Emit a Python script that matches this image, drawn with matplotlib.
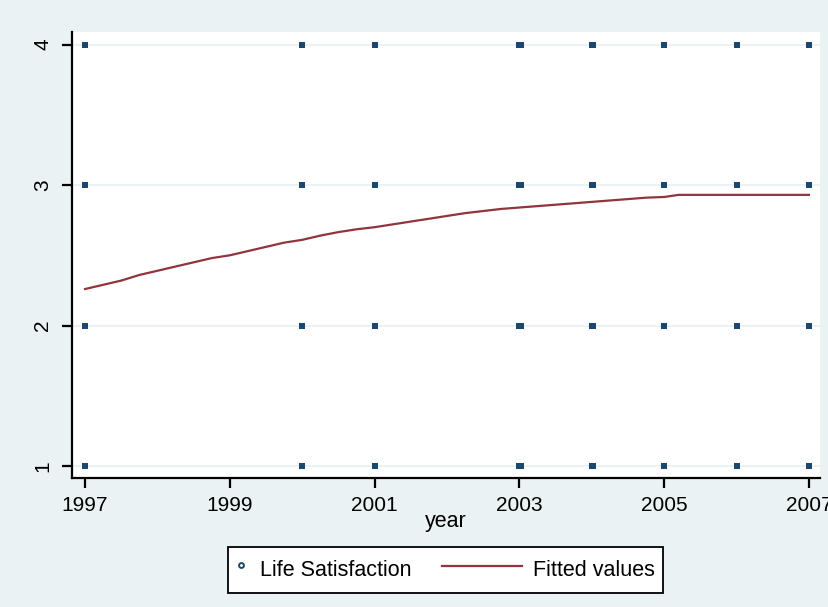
import numpy as np
import matplotlib.pyplot as plt
from matplotlib.lines import Line2D
from matplotlib.patches import Rectangle

# observed survey years and answer levels (every combination appears)
years = [1997, 2000, 2001, 2003, 2004, 2005, 2006, 2007]
levels = [1, 2, 3, 4]
# 2003 and 2004 have interview dates spread a little within the year
extra_years = [2003.02, 2004.02]

# fitted values
fit_x = [1997.0, 1997.25, 1997.5, 1997.75, 1998.0, 1998.25, 1998.5, 1998.75,
         1999.0, 1999.25, 1999.5, 1999.75, 2000.0, 2000.25, 2000.5, 2000.75,
         2001.0, 2001.25, 2001.5, 2001.75, 2002.0, 2002.25, 2002.5, 2002.75,
         2003.0, 2003.25, 2003.5, 2003.75, 2004.0, 2004.25, 2004.5, 2004.75,
         2005.0, 2005.2, 2006.0, 2007.0]
fit_y = [2.26, 2.29, 2.32, 2.36, 2.39, 2.42, 2.45, 2.48,
         2.50, 2.53, 2.56, 2.59, 2.61, 2.64, 2.665, 2.685,
         2.70, 2.72, 2.74, 2.76, 2.78, 2.80, 2.815, 2.83,
         2.84, 2.85, 2.86, 2.87, 2.88, 2.89, 2.90, 2.91,
         2.915, 2.93, 2.93, 2.93]

xticks = [1997, 1999, 2001, 2003, 2005, 2007]
yticks = [1, 2, 3, 4]
labels = ['Life Satisfaction', 'Fitted values']

bg = '#eaf2f3'
navy = '#1a476f'
maroon = '#90353b'

plt.rcParams['font.family'] = ['Liberation Sans', 'DejaVu Sans']

fig = plt.figure(figsize=(8.29, 6.07), dpi=100, facecolor=bg)
ax = fig.add_axes([0.0869, 0.2125, 0.902, 0.735])
ax.set_facecolor('white')

for yv in yticks:
    ax.axhline(yv, color=bg, lw=1.5, zorder=0)

px = [x for x in years for _ in levels]
py = [l for _ in years for l in levels]
ax.scatter(px, py, marker='s', s=24, color=navy, zorder=3, linewidths=0)
ex = [x for x in extra_years for _ in levels]
ey = [l for _ in extra_years for l in levels]
ax.scatter(ex, ey, marker='s', s=24, color=navy, zorder=3, linewidths=0)

ax.plot(fit_x, fit_y, color=maroon, lw=1.6, zorder=4)

ax.set_xlim(1996.82, 2007.15)
ax.set_ylim(0.915, 4.09)
ax.set_xticks(xticks)
ax.set_yticks(yticks)
ax.set_yticklabels([str(v) for v in yticks], rotation=90, va='center',
                   ha='center', fontsize=15)
ax.tick_params(axis='both', length=7, width=1.6, labelsize=15, color='black')
ax.tick_params(axis='y', pad=14)
ax.tick_params(axis='x', pad=6)

for s in ['top', 'right']:
    ax.spines[s].set_visible(False)
for s in ['left', 'bottom']:
    ax.spines[s].set_linewidth(1.6)

ax.set_xlabel('year', fontsize=15.5, labelpad=-3)

# legend box drawn like Stata's: marker sits at the far left of its key
W, H = 829.0, 607.0
box = Rectangle((228 / W, 1 - 593 / H), (663 - 228) / W, (593 - 547) / H,
                transform=fig.transFigure, facecolor='white',
                edgecolor='black', lw=1.3, zorder=5)
fig.patches.append(box)
ymid = 1 - 571 / H
fig.lines.append(Line2D([241 / W], [1 - 565 / H], transform=fig.transFigure,
                        ls='none', marker='o', markersize=3.5, mfc='none',
                        mec=navy, mew=1.4, zorder=6))
fig.text(260 / W, ymid, labels[0], fontsize=15.5, va='center', ha='left',
         zorder=6)
fig.lines.append(Line2D([442 / W, 522 / W], [1 - 566 / H, 1 - 566 / H],
                        transform=fig.transFigure, color=maroon, lw=1.6,
                        zorder=6))
fig.text(533 / W, ymid, labels[1], fontsize=15.5, va='center', ha='left',
         zorder=6)

fig.savefig('out.png', dpi=100, facecolor=bg)
